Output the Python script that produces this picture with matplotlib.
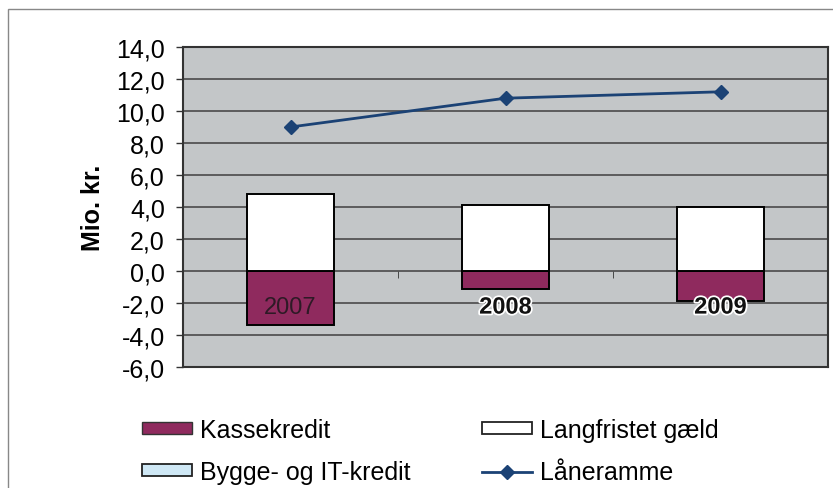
import numpy as np
import matplotlib
matplotlib.use("Agg")
import matplotlib.pyplot as plt
from matplotlib.patches import Patch, Rectangle
from matplotlib.lines import Line2D
from matplotlib.ticker import FuncFormatter, FixedLocator
import matplotlib.patheffects as pe

plt.rcParams['font.family'] = ['Liberation Sans', 'DejaVu Sans']

years = ['2007', '2008', '2009']
kassekredit = [-3.4, -1.1, -1.9]
langfristet = [4.8, 4.1, 4.0]
bygge_it = [0.0, 0.0, 0.0]
laaneramme = [9.0, 10.8, 11.2]

col_kasse = '#8f2a5e'
col_lang = '#ffffff'
col_bygge = '#cfe8f5'
col_line = '#1b4275'
bg = '#c3c6c8'
grid_col = '#4a4a4a'

fig = plt.figure(figsize=(8.33, 4.89), dpi=100)
ax = fig.add_axes([183/833, 1-368/489, 645/833, 320/489])
ax.set_facecolor(bg)

x = np.arange(len(years))
w = 0.405
ax.bar(x, kassekredit, w, color=col_kasse, edgecolor='black', linewidth=1.4, zorder=3)
ax.bar(x, langfristet, w, color=col_lang, edgecolor='black', linewidth=1.4, zorder=3)
ax.bar(x, bygge_it, w, bottom=langfristet, color=col_bygge, edgecolor='black',
       linewidth=0, zorder=3)
ax.plot(x, laaneramme, color=col_line, marker='D', markersize=7, linewidth=2, zorder=4)

ax.set_xlim(-0.5, 2.5)
ax.set_ylim(-6, 14)
ax.set_yticks(np.arange(-6, 15, 2))
ax.yaxis.set_major_formatter(FuncFormatter(lambda v, p: f'{v:.1f}'.replace('.', ',')))
ax.tick_params(axis='y', labelsize=18, length=5, width=1, color='#333333', pad=8)
ax.yaxis.grid(True, color=grid_col, linewidth=1.2, zorder=1)
ax.set_axisbelow(True)

ax.spines['bottom'].set_position(('data', 0))
ax.spines['bottom'].set_visible(False)
ax.spines['top'].set_visible(False)
for s in ['left', 'right']:
    ax.spines[s].set_color('#333333')
    ax.spines[s].set_linewidth(1.5)
ax.plot([0, 1], [0, 0], transform=ax.transAxes, color='#333333', lw=1.5, clip_on=False)
ax.plot([0, 1], [1, 1], transform=ax.transAxes, color='#333333', lw=1.5, clip_on=False)

# category labels sit below the zero line, drawn on top of the bars
ax.set_xticks(x)
ax.set_xticklabels([])
ax.xaxis.set_minor_locator(FixedLocator([0.5, 1.5]))
ax.tick_params(axis='x', which='major', length=0)
ax.tick_params(axis='x', which='minor', length=5, color='#333333')
for i, yr in enumerate(years):
    t = ax.annotate(yr, (x[i], 0), xytext=(0, -26), textcoords='offset points',
                    ha='center', va='center', fontsize=17,
                    fontweight='normal' if i == 0 else 'bold',
                    color='#2e1a26' if i == 0 else '#111111', zorder=6)
    if i > 0:
        t.set_path_effects([pe.withStroke(linewidth=2.5, foreground='white')])

ax.set_ylabel('Mio. kr.', fontsize=18, fontweight='bold', labelpad=8)

handles = [
    Patch(facecolor=col_kasse, edgecolor='#333333', linewidth=1),
    Patch(facecolor=col_bygge, edgecolor='#222222', linewidth=1.3),
    Patch(facecolor=col_lang, edgecolor='#222222', linewidth=1.3),
    Line2D([], [], color=col_line, marker='D', markersize=7, linewidth=2),
]
labels = ['Kassekredit', 'Bygge- og IT-kredit', 'Langfristet gæld', 'Låneramme']
fig.legend(handles, labels, ncol=2, loc='upper left', bbox_to_anchor=(142/833, 1-419/489),
           frameon=False, fontsize=18, handlelength=2.0, handleheight=0.32,
           handletextpad=0.32, columnspacing=2.84, labelspacing=0.72,
           borderpad=0, borderaxespad=0)

fig.add_artist(Rectangle((8/833, -0.1), 1.0, 1-10/489 + 0.1, transform=fig.transFigure,
                         fill=False, edgecolor='#888888', linewidth=1))

fig.savefig('out.png', dpi=100, facecolor='white')
